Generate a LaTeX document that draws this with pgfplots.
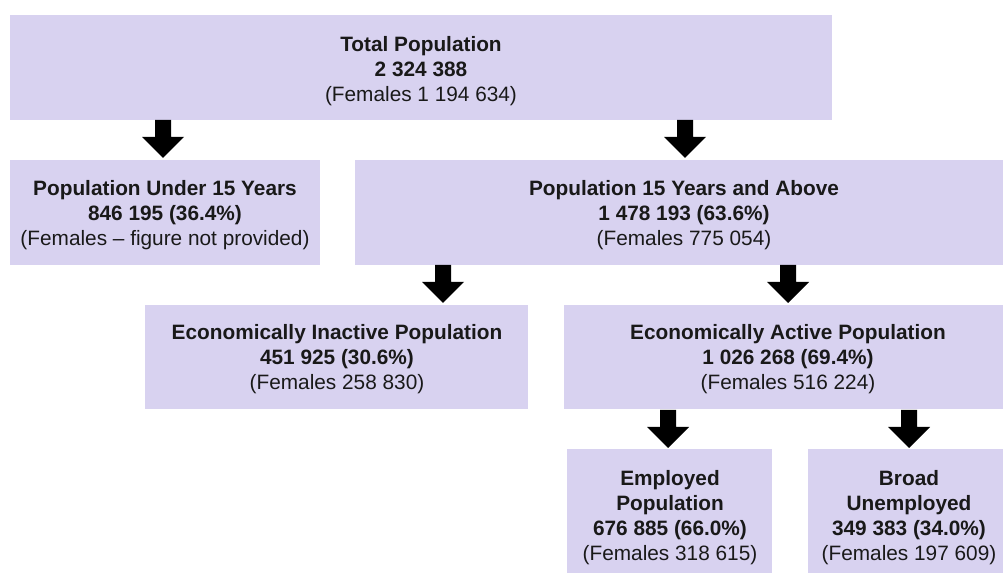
\documentclass[border=0pt]{standalone}
\usepackage{pgfplots}
\pgfplotsset{compat=1.18}
\usepackage{fontspec}
\setmainfont{Liberation Sans}
\definecolor{boxc}{RGB}{216,210,240}
\definecolor{txt}{RGB}{25,25,25}
\tikzset{lbl/.style={font=\fontsize{15.6}{18.75}\selectfont, text=txt, align=center, inner sep=0pt}}
\begin{document}
\begin{tikzpicture}
\begin{axis}[
  x=0.75pt, y=0.75pt,
  xmin=0, xmax=1003, ymin=-573, ymax=0,
  hide axis, clip=true,
]
\path (axis cs:0,0) rectangle (axis cs:1003,-573);
% boxes
\addplot[fill=boxc, draw=none] coordinates {(10,-15) (832,-15) (832,-120) (10,-120)} -- cycle;
\addplot[fill=boxc, draw=none] coordinates {(10,-160) (320,-160) (320,-265) (10,-265)} -- cycle;
\addplot[fill=boxc, draw=none] coordinates {(355,-160) (1013,-160) (1013,-265) (355,-265)} -- cycle;
\addplot[fill=boxc, draw=none] coordinates {(145,-305) (528,-305) (528,-409) (145,-409)} -- cycle;
\addplot[fill=boxc, draw=none] coordinates {(564,-305) (1013,-305) (1013,-409) (564,-409)} -- cycle;
\addplot[fill=boxc, draw=none] coordinates {(567,-449) (772,-449) (772,-580) (567,-580)} -- cycle;
\addplot[fill=boxc, draw=none] coordinates {(808,-449) (1013,-449) (1013,-580) (808,-580)} -- cycle;
% arrows
\addplot[fill=black, draw=none] coordinates {(155,-120) (171,-120) (171,-137) (184,-137) (163,-158) (142,-137) (155,-137)} -- cycle;
\addplot[fill=black, draw=none] coordinates {(677,-120) (693,-120) (693,-137) (706,-137) (685,-158) (664,-137) (677,-137)} -- cycle;
\addplot[fill=black, draw=none] coordinates {(435,-265) (451,-265) (451,-282) (464,-282) (443,-303) (422,-282) (435,-282)} -- cycle;
\addplot[fill=black, draw=none] coordinates {(780,-265) (796,-265) (796,-282) (809,-282) (788,-303) (767,-282) (780,-282)} -- cycle;
\addplot[fill=black, draw=none] coordinates {(660,-410) (676,-410) (676,-427) (689,-427) (668,-448) (647,-427) (660,-427)} -- cycle;
\addplot[fill=black, draw=none] coordinates {(901,-410) (917,-410) (917,-427) (930,-427) (909,-448) (888,-427) (901,-427)} -- cycle;
% labels
\node[lbl] at (axis cs:421,-71) {\textbf{Total Population}\\\textbf{2 324 388}\\(Females 1 194 634)};
\node[lbl] at (axis cs:165,-215) {\textbf{Population Under 15 Years}\\\textbf{846 195 (36.4\%)}\\(Females -- figure not provided)};
\node[lbl] at (axis cs:684,-215) {\textbf{Population 15 Years and Above}\\\textbf{1 478 193 (63.6\%)}\\(Females 775 054)};
\node[lbl] at (axis cs:337,-359) {\textbf{Economically Inactive Population}\\\textbf{451 925 (30.6\%)}\\(Females 258 830)};
\node[lbl] at (axis cs:788,-359) {\textbf{Economically Active Population}\\\textbf{1 026 268 (69.4\%)}\\(Females 516 224)};
\node[lbl] at (axis cs:670,-518) {\textbf{Employed}\\\textbf{Population}\\\textbf{676 885 (66.0\%)}\\(Females 318 615)};
\node[lbl] at (axis cs:909,-518) {\textbf{Broad}\\\textbf{Unemployed}\\\textbf{349 383 (34.0\%)}\\(Females 197 609)};
\end{axis}
\end{tikzpicture}
\end{document}
